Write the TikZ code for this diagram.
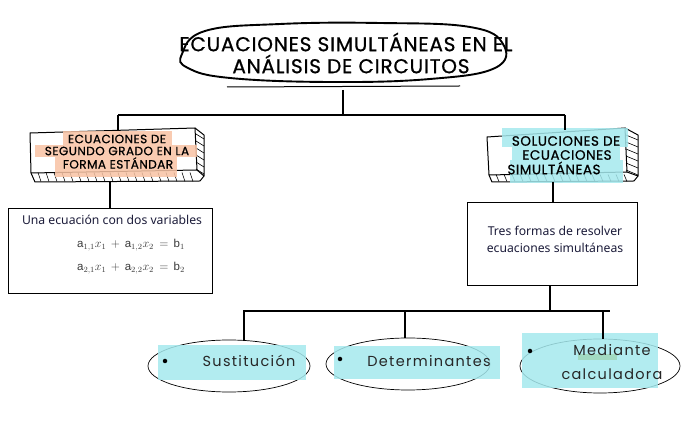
\documentclass[tikz,border=0pt]{standalone}
\usepackage{fontspec}
\usetikzlibrary{shapes.geometric}
\setmainfont{Liberation Sans}
\newfontfamily\titlefont{Poppins}[LetterSpace=4, FakeBold=0.8]
\newfontfamily\handfont{Poppins}[LetterSpace=9]
\newfontfamily\bodyfont{Noto Sans}
\definecolor{hlorange}{HTML}{F8C3A4}
\definecolor{hlcyan}{HTML}{A5E9EE}
\definecolor{hlgreen}{HTML}{9ED6B6}
\definecolor{navy}{HTML}{1C1C3A}
\definecolor{eqgrey}{HTML}{3A3A3A}
\begin{document}
\begin{tikzpicture}[x=1pt,y=-1pt,
  conn/.style={line width=1.4pt, black},
  boxline/.style={line width=1pt, black, line join=round},
  hatch/.style={line width=0.6pt, black},
  plainbox/.style={draw=black, line width=0.9pt, fill=white},
  oval/.style={draw=black, line width=0.7pt, ellipse},
  titletxt/.style={font=\titlefont\fontsize{20}{23}\selectfont, inner sep=0pt},
  boxtxt/.style={font=\titlefont\fontsize{12}{14}\selectfont, inner sep=0pt},
  rboxtxt/.style={font=\titlefont\fontsize{13.5}{15}\selectfont, inner sep=0pt},
  bodytxt/.style={font=\bodyfont\fontsize{12.2}{14}\selectfont, text=navy, inner sep=0pt},
  eqtxt/.style={font=\fontsize{11.5}{13}\selectfont, text=eqgrey, inner sep=0pt},
  handtxt/.style={font=\handfont\fontsize{14.5}{17}\selectfont, text=black!85, inner sep=0pt},
  bullet/.style={circle, fill=black, inner sep=0pt, minimum size=4.5pt}]
\useasboundingbox (0,0) rectangle (697,427);
\fill[white] (0,0) rectangle (697,427);

% ---------- title ----------
\draw[line width=1.9pt] plot[smooth cycle, tension=0.7] coordinates
  {(182,54) (205,31) (280,24) (380,23) (470,27) (503,44) (495,68) (430,79) (330,82) (230,78) (188,68)};
\node[titletxt] (t1) at (346,42) {ECUACIONES SIMULTÁNEAS EN EL};
\node[titletxt] (t2) at (351,64) {ANÁLISIS DE CIRCUITOS};
\coordinate (ul1) at (227,87);
\coordinate (ul2) at (460,86);
\draw[line width=1pt] (ul1) -- (ul2);

% ---------- first branching ----------
\coordinate (tv) at (343,90);
\coordinate (tj) at (343,115);
\coordinate (bl) at (118,115);
\coordinate (br) at (565,115);
\draw[conn] (tv) -- (tj);
\draw[conn] (bl) -- (br);

% ---------- left 3D box ----------
\draw[boxline, fill=white] (30,133) -- (195,128) -- (197,170) -- (31,173) -- cycle;
\draw[boxline] (195,128) -- (204,135) -- (204,176) -- (197,170);
\draw[boxline] (31,173) -- (35,182) -- (200,181) -- (204,176);
\foreach \x in {38,46,...,190} \draw[hatch] (\x,172.5) -- (\x+3,181.5);
\foreach \y in {136,143,...,171} \draw[hatch] (196,\y-2) -- (204,\y+3);
\fill[hlorange, opacity=0.85] (63,131) rectangle (172,145);
\fill[hlorange, opacity=0.85] (35,145) rectangle (197,157);
\fill[hlorange, opacity=0.85] (55,157) rectangle (177,177);
\node[boxtxt] (l1) at (117,139) {ECUACIONES DE};
\node[boxtxt] (l2) at (117,151) {SEGUNDO GRADO EN LA};
\node[boxtxt] (l3) at (118,163) {FORMA ESTÁNDAR};
\coordinate (lboxtop) at (118,130);
\coordinate (lboxbot) at (110,182);
\draw[conn] (bl) -- (lboxtop);

% ---------- right 3D box ----------
\draw[boxline, fill=white] (487,137) -- (625,128) -- (627,172) -- (489,175) -- cycle;
\draw[boxline] (625,128) -- (638,135) -- (638,176) -- (627,172);
\draw[boxline] (489,175) -- (492,182) -- (634,181) -- (638,176);
\foreach \x in {496,504,...,626} \draw[hatch] (\x,174.5) -- (\x+3,181.5);
\foreach \y in {138,145,...,173} \draw[hatch] (626,\y-3) -- (638,\y+2);
\fill[hlcyan, opacity=0.85] (502,128) rectangle (628,147);
\fill[hlcyan, opacity=0.85] (512,147) rectangle (620,160);
\fill[hlcyan, opacity=0.85] (510,160) rectangle (623,183);
\node[rboxtxt] (r1) at (566,141) {SOLUCIONES DE};
\node[rboxtxt] (r2) at (567,155) {ECUACIONES};
\node[rboxtxt] (r3) at (554,168) {SIMULTÁNEAS};
\coordinate (rboxtop) at (565,130);
\coordinate (rboxbot) at (553,182);
\draw[conn] (br) -- (rboxtop);

% ---------- lower left box ----------
\node[plainbox, minimum width=204pt, minimum height=85pt] (lowl) at (110,250.5) {};
\node[bodytxt] (lowlt) at (112,220) {Una ecuación con dos variables};
\node[eqtxt] (eq1) at (131,245) {$\mathrm{a}_{1,1}x_1 \,+\, \mathrm{a}_{1,2}x_2 \,=\, \mathrm{b}_1$};
\node[eqtxt] (eq2) at (131,268) {$\mathrm{a}_{2,1}x_1 \,+\, \mathrm{a}_{2,2}x_2 \,=\, \mathrm{b}_2$};
\draw[conn] (lboxbot) -- (lowl.north -| lboxbot);

% ---------- lower right box ----------
\node[plainbox, minimum width=170pt, minimum height=83pt] (lowr) at (552,243.5) {};
\node[bodytxt, align=center] (lowrt) at (555,239) {Tres formas de resolver\\[3pt]ecuaciones simultáneas};
\draw[conn] (rboxbot) -- (lowr.north -| rboxbot);

% ---------- second branching ----------
\coordinate (lj) at (550,311);
\coordinate (b2l) at (243,311);
\coordinate (b2r) at (610,311);
\draw[conn] (lowr.south -| lj) -- (lj);
\draw[conn] (b2l) -- (b2r);

% ---------- bottom ovals ----------
\node[oval, minimum width=162pt, minimum height=52pt] (e1) at (229,366) {};
\node[oval, minimum width=164pt, minimum height=52pt] (e2) at (408,364) {};
\node[oval, minimum width=160pt, minimum height=54pt] (e3) at (600,366) {};
\fill[hlcyan, opacity=0.85] (158,345) rectangle (306,380);
\fill[hlcyan, opacity=0.85] (334,346) rectangle (500,379);
\fill[hlcyan, opacity=0.85] (522,333) rectangle (658,388);
\fill[hlgreen, opacity=0.8] (578,354) rectangle (617,360);
\draw[conn] (244,311) -- (e1.north -| 244,0);
\draw[conn] (405,311) -- (e2.north -| 405,0);
\draw[conn] (603,311) -- (e3.north -| 603,0);
\node[bullet] (d1) at (165,361) {};
\node[bullet] (d2) at (340,359) {};
\node[bullet] (d3) at (530,351) {};
\node[handtxt] (s1) at (249,361) {Sustitución};
\node[handtxt] (s2) at (429,361) {Determinantes};
\node[handtxt] (s3) at (612,350) {Mediante};
\node[handtxt] (s4) at (612,374) {calculadora};
\end{tikzpicture}
\end{document}
